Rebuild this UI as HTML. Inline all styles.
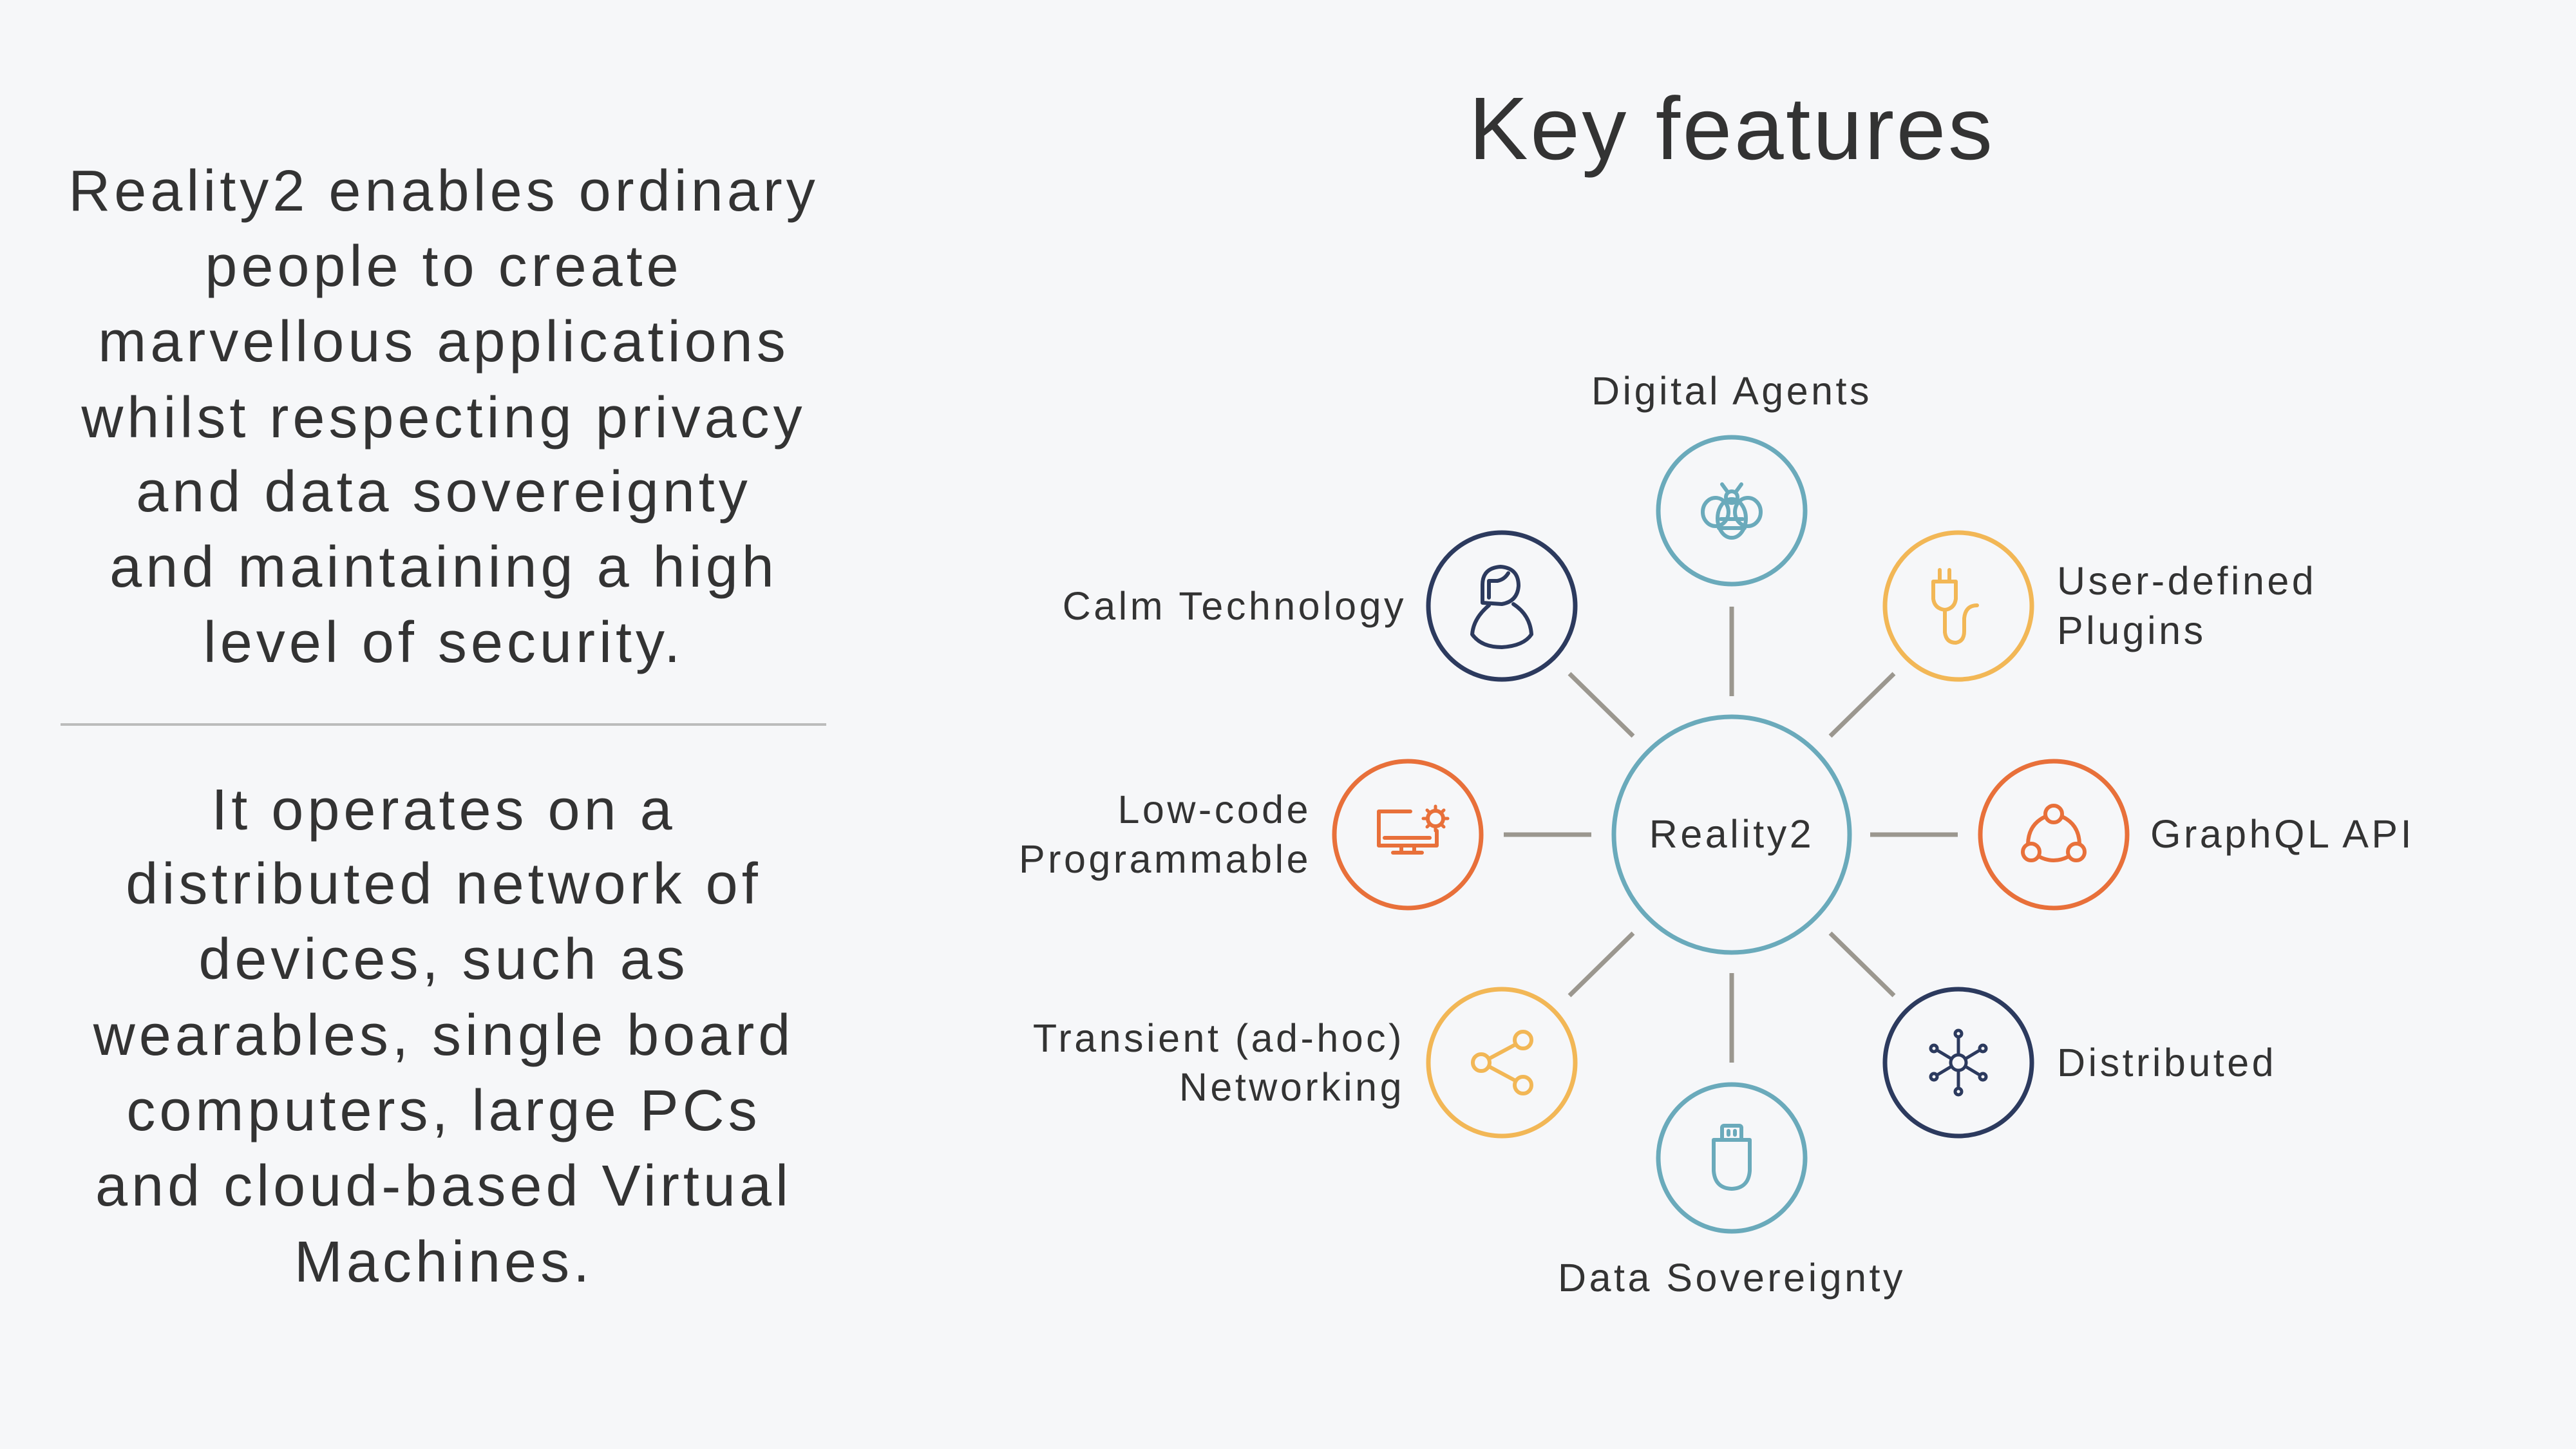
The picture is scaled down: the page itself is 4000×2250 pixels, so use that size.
<!DOCTYPE html>
<html><head><meta charset="utf-8"><style>
html,body{margin:0;padding:0;background:#f6f7f9;}
svg{display:block}
</style></head><body>
<svg width="4000" height="2250" viewBox="0 0 4000 2250" xmlns="http://www.w3.org/2000/svg" font-family="Liberation Sans, sans-serif" fill="#333">
<rect width="4000" height="2250" fill="#f6f7f9"/>
<text x="2689" y="247" font-size="138" text-anchor="middle" fill="#333" letter-spacing="3.5">Key features</text>
<g font-size="90" text-anchor="middle" fill="#333" letter-spacing="6">
<text x="689" y="327">Reality2 enables ordinary</text>
<text x="689" y="444">people to create</text>
<text x="689" y="561">marvellous applications</text>
<text x="689" y="679">whilst respecting privacy</text>
<text x="689" y="794">and data sovereignty</text>
<text x="689" y="911">and maintaining a high</text>
<text x="689" y="1028">level of security.</text>
<text x="689" y="1288">It operates on a</text>
<text x="689" y="1403">distributed network of</text>
<text x="689" y="1520">devices, such as</text>
<text x="689" y="1638">wearables, single board</text>
<text x="689" y="1755">computers, large PCs</text>
<text x="689" y="1872">and cloud-based Virtual</text>
<text x="689" y="1990">Machines.</text>
</g>
<line x1="94" y1="1125" x2="1283" y2="1125" stroke="#bcbcbc" stroke-width="4"/>
<g stroke="#9b978f" stroke-width="7">
<line x1="2689" y1="942" x2="2689" y2="1081"/>
<line x1="2689" y1="1511" x2="2689" y2="1650"/>
<line x1="2335" y1="1296" x2="2471" y2="1296"/>
<line x1="2904" y1="1296" x2="3040" y2="1296"/>
<line x1="2437" y1="1046" x2="2536" y2="1143"/>
<line x1="2941" y1="1046" x2="2842" y2="1143"/>
<line x1="2437" y1="1546" x2="2536" y2="1449"/>
<line x1="2941" y1="1546" x2="2842" y2="1449"/>
</g>
<g fill="none" stroke-width="7">
<circle cx="2689" cy="1296" r="183" stroke="#6aaabb"/>
<circle cx="2689" cy="793" r="114" stroke="#6aaabb"/>
<circle cx="2332" cy="941" r="114" stroke="#2c3a5e"/>
<circle cx="3041" cy="941" r="114" stroke="#f2b756"/>
<circle cx="2186" cy="1296" r="114" stroke="#e8703a"/>
<circle cx="3189" cy="1296" r="114" stroke="#e8703a"/>
<circle cx="2332" cy="1650" r="114" stroke="#f2b756"/>
<circle cx="3041" cy="1650" r="114" stroke="#2c3a5e"/>
<circle cx="2689" cy="1798" r="114" stroke="#6aaabb"/>
</g>
<g fill="none" stroke-width="6" stroke-linecap="round" stroke-linejoin="round">
<g stroke="#6aaabb">
<ellipse cx="2664" cy="795" rx="20" ry="22"/><ellipse cx="2714" cy="795" rx="20" ry="22"/>
<ellipse cx="2689" cy="805" rx="22" ry="30"/><circle cx="2689" cy="772" r="9"/>
<line x1="2672" y1="806" x2="2706" y2="806"/><line x1="2669" y1="820" x2="2709" y2="820"/>
<line x1="2682" y1="763" x2="2674" y2="752"/><line x1="2696" y1="763" x2="2704" y2="752"/>
</g>
<g stroke="#2c3a5e">
<path d="M2302 936 L2302 908 Q2302 882 2330 880 Q2358 882 2358 910 Q2356 934 2332 938 Z"/>
<path d="M2312 928 L2312 902 L2325 902 Q2336 900 2342 890"/>
<path d="M2312 940 Q2288 960 2286 985 Q2300 1005 2332 1005 Q2366 1003 2378 985 Q2376 955 2350 938"/>
</g>
<g stroke="#f2b756">
<line x1="3012" y1="885" x2="3012" y2="902"/><line x1="3027" y1="885" x2="3027" y2="902"/>
<path d="M3002 903 L3037 903 L3037 930 Q3035 945 3020 947 Q3004 945 3002 930 Z"/>
<path d="M3020 947 L3020 982 Q3022 998 3037 998 Q3050 996 3050 980 L3050 960 Q3052 940 3070 940"/>
</g>
<g stroke="#e8703a">
<path d="M2190 1260 L2141 1260 L2141 1313 L2231 1313 L2231 1290"/>
<line x1="2150" y1="1301" x2="2220" y2="1301"/>
<line x1="2176" y1="1313" x2="2176" y2="1322"/><line x1="2196" y1="1313" x2="2196" y2="1322"/>
<line x1="2163" y1="1324" x2="2208" y2="1324"/>
<circle cx="2229" cy="1271" r="12"/>
<g stroke-width="5"><line x1="2229" y1="1252" x2="2229" y2="1256"/><line x1="2229" y1="1286" x2="2229" y2="1290"/><line x1="2210" y1="1271" x2="2214" y2="1271"/><line x1="2244" y1="1271" x2="2248" y2="1271"/><line x1="2216" y1="1258" x2="2219" y2="1261"/><line x1="2239" y1="1281" x2="2242" y2="1284"/><line x1="2242" y1="1258" x2="2239" y2="1261"/><line x1="2216" y1="1284" x2="2219" y2="1281"/></g>
</g>
<g stroke="#e8703a">
<circle cx="3189" cy="1264" r="13"/><circle cx="3154" cy="1323" r="13"/><circle cx="3224" cy="1323" r="13"/>
<path d="M3176 1268 Q3150 1280 3149 1310"/><path d="M3202 1268 Q3228 1280 3229 1310"/>
<path d="M3166 1330 Q3189 1342 3212 1330"/>
</g>
<g stroke="#f2b756">
<circle cx="2300" cy="1650" r="13"/><circle cx="2365" cy="1615" r="13"/><circle cx="2365" cy="1685" r="13"/>
<line x1="2312" y1="1644" x2="2353" y2="1622"/><line x1="2312" y1="1656" x2="2353" y2="1678"/>
</g>
<g stroke="#2c3a5e" stroke-width="5">
<circle cx="3041" cy="1650" r="12"/>
<line x1="3041" y1="1638" x2="3041" y2="1612"/><line x1="3041" y1="1662" x2="3041" y2="1688"/>
<line x1="3030" y1="1644" x2="3010" y2="1632"/><line x1="3052" y1="1656" x2="3072" y2="1668"/>
<line x1="3052" y1="1644" x2="3072" y2="1632"/><line x1="3030" y1="1656" x2="3010" y2="1668"/>
<circle cx="3041" cy="1605" r="5"/><circle cx="3041" cy="1695" r="5"/>
<circle cx="3003" cy="1628" r="5"/><circle cx="3079" cy="1628" r="5"/>
<circle cx="3003" cy="1672" r="5"/><circle cx="3079" cy="1672" r="5"/>
</g>
<g stroke="#6aaabb">
<rect x="2674" y="1748" width="30" height="22" rx="3"/>
<path d="M2661 1770 L2717 1770 L2717 1818 Q2715 1845 2689 1846 Q2663 1845 2661 1818 Z"/>
<line x1="2684" y1="1756" x2="2684" y2="1762"/><line x1="2694" y1="1756" x2="2694" y2="1762"/>
</g>
</g>
<g font-size="61" fill="#333" letter-spacing="4.5">
<text x="2689" y="628" text-anchor="middle">Digital Agents</text>
<text x="2184" y="962" text-anchor="end">Calm Technology</text>
<text x="3194" y="923">User-defined</text>
<text x="3194" y="1000">Plugins</text>
<text x="2036" y="1278" text-anchor="end">Low-code</text>
<text x="2036" y="1355" text-anchor="end">Programmable</text>
<text x="2689" y="1316" text-anchor="middle">Reality2</text>
<text x="3339" y="1316">GraphQL API</text>
<text x="2181" y="1633" text-anchor="end">Transient (ad-hoc)</text>
<text x="2181" y="1709" text-anchor="end">Networking</text>
<text x="3194" y="1671">Distributed</text>
<text x="2689" y="2005" text-anchor="middle">Data Sovereignty</text>
</g>
</svg>
</body></html>
